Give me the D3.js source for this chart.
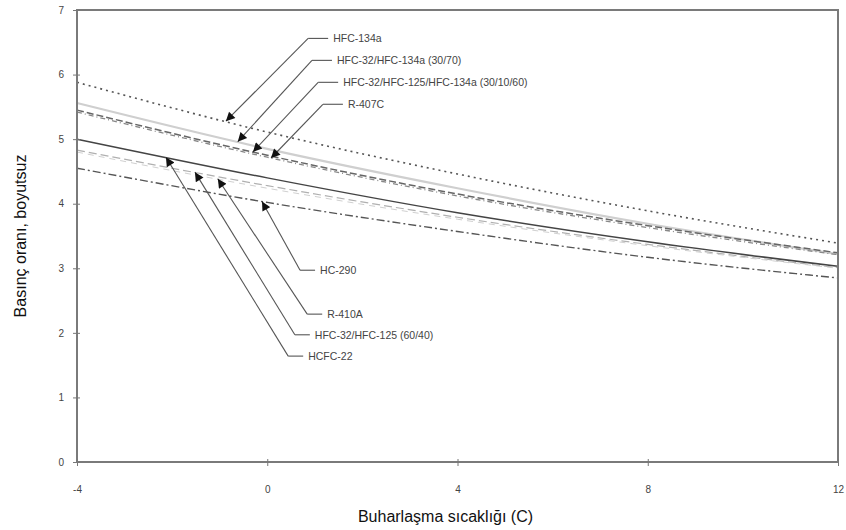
<!DOCTYPE html>
<html>
<head>
<meta charset="utf-8">
<script src="https://cdn.jsdelivr.net/npm/d3@7"></script>
<style>
  body { margin: 0; background: #fff; }
  text { font-family: "Liberation Sans", Arial, sans-serif; }
</style>
</head>
<body>
<svg id="chart" width="846" height="530"></svg>
<script>
//-------------------------------------------------
// Data
//-------------------------------------------------
var temps = [-4, 0, 4, 8, 12];
var xTicks = [-4, 0, 4, 8, 12];
var yTicks = [0, 1, 2, 3, 4, 5, 6, 7];

var hfc134a    = [5.88, 5.11, 4.46, 3.89, 3.39];
var mix3070    = [5.56, 4.85, 4.24, 3.69, 3.22];
var mix301060  = [5.45, 4.75, 4.15, 3.66, 3.24];
var r407c      = [5.42, 4.72, 4.12, 3.63, 3.21];
var hcfc22     = [5.00, 4.40, 3.86, 3.41, 3.03];
var mix6040    = [4.83, 4.28, 3.79, 3.37, 3.01];
var r410a      = [4.80, 4.24, 3.76, 3.35, 3.00];
var hc290      = [4.55, 4.02, 3.57, 3.17, 2.85];

var seriesNames = ["HFC-134a", "HFC-32/HFC-134a (30/70)", "HFC-32/HFC-125/HFC-134a (30/10/60)",
                   "R-407C", "HCFC-22", "HFC-32/HFC-125 (60/40)", "R-410A", "HC-290"];
var seriesValues = [hfc134a, mix3070, mix301060, r407c, hcfc22, mix6040, r410a, hc290];

// label callouts: tip temperature on the curve, elbow temperature, label level
var calloutTip   = [-0.87, -0.62, -0.30, 0.08, -2.13, -1.52, -1.04, -0.11];
var calloutElbow = [0.86, 0.94, 1.07, 1.17, 0.44, 0.58, 0.84, 0.69];
var calloutLevel = [6.56, 6.22, 5.88, 5.54, 1.64, 1.97, 2.29, 2.97];

//-------------------------------------------------
var margin = {top: 10, right: 8, bottom: 68, left: 77};
var width = 846 - margin.left - margin.right;
var height = 530 - margin.top - margin.bottom;

var svg = d3.select("#chart");

var x = d3.scaleLinear().domain([-4, 12]).range([0, width]);
var y = d3.scaleLinear().domain([0, 7]).range([height, 0]);

var g = svg.append("g")
  .attr("transform", "translate(" + margin.left + "," + margin.top + ")");

// line styles
var styles = [
  {stroke: "#555", width: 1.6, dash: "2,4"},        // HFC-134a dotted
  {stroke: "#cfcfcf", width: 2.2, dash: null},      // 30/70 light solid
  {stroke: "#666", width: 1.5, dash: "7,3"},        // 30/10/60 dashed
  {stroke: "#888", width: 1.3, dash: "5,3,1,3"},    // R-407C dash-dot
  {stroke: "#444", width: 1.5, dash: null},         // HCFC-22 solid
  {stroke: "#b0b0b0", width: 1.2, dash: "8,4"},     // 60/40 light dashed
  {stroke: "#d0d0d0", width: 1.0, dash: "6,5"},     // R-410A
  {stroke: "#555", width: 1.4, dash: "8,3,2,3"}     // HC-290 dash-dot
];

var line = d3.line()
  .x(function(d) { return x(d[0]); })
  .y(function(d) { return y(d[1]); })
  .curve(d3.curveMonotoneX);

seriesValues.forEach(function(vals, i) {
  var pts = temps.map(function(t, k) { return [t, vals[k]]; });
  g.append("path")
    .datum(pts)
    .attr("fill", "none")
    .attr("stroke", styles[i].stroke)
    .attr("stroke-width", styles[i].width)
    .attr("stroke-dasharray", styles[i].dash)
    .attr("d", line);
});

// frame
g.append("rect")
  .attr("x", 0).attr("y", 0)
  .attr("width", width).attr("height", height)
  .attr("fill", "none")
  .attr("stroke", "#7a7a7a")
  .attr("stroke-width", 2);

// axes
var xAxis = g.append("g")
  .attr("transform", "translate(0," + height + ")")
  .call(d3.axisBottom(x).tickValues(xTicks).tickSize(4).tickPadding(20)
        .tickFormat(function(d) { return d; }));
var yAxis = g.append("g")
  .call(d3.axisLeft(y).tickValues(yTicks).tickSize(4).tickPadding(9)
        .tickFormat(function(d) { return d; }));

[xAxis, yAxis].forEach(function(a) {
  a.select(".domain").remove();
  a.selectAll(".tick line").attr("stroke", "#777");
  a.selectAll(".tick text")
    .attr("fill", "#444")
    .style("font-size", "10px")
    .style("font-family", "'Liberation Sans', Arial, sans-serif");
});
xAxis.selectAll(".tick line").attr("y1", -3);
yAxis.selectAll(".tick line").attr("x1", 3);

// arrow marker
svg.append("defs").append("marker")
  .attr("id", "arrow")
  .attr("viewBox", "0 0 10 10")
  .attr("refX", 10).attr("refY", 5)
  .attr("markerWidth", 11).attr("markerHeight", 9)
  .attr("markerUnits", "userSpaceOnUse")
  .attr("orient", "auto")
  .append("path")
  .attr("d", "M0,0L10,5L0,10z")
  .attr("fill", "#111");

// value of a series at a temperature (linear between read points)
function valueAt(vals, t) {
  return d3.scaleLinear().domain(temps).range(vals)(t);
}

seriesNames.forEach(function(name, i) {
  var tipX = x(calloutTip[i]);
  var tipY = y(valueAt(seriesValues[i], calloutTip[i]));
  var ex = x(calloutElbow[i]);
  var ey = y(calloutLevel[i]);
  var upper = i < 4;
  var hEnd = ex + (upper ? 20 : 15);

  g.append("line")
    .attr("x1", ex).attr("y1", ey)
    .attr("x2", tipX).attr("y2", tipY)
    .attr("stroke", "#555")
    .attr("stroke-width", 1.1)
    .attr("marker-end", "url(#arrow)");
  g.append("line")
    .attr("x1", ex).attr("y1", ey)
    .attr("x2", hEnd).attr("y2", ey)
    .attr("stroke", "#555")
    .attr("stroke-width", 1.1);
  g.append("text")
    .attr("x", hEnd + 5)
    .attr("y", ey + 4)
    .attr("fill", "#444")
    .style("font-size", "10.5px")
    .text(name);
});

// axis titles
svg.append("text")
  .attr("x", margin.left + width / 2 - 12)
  .attr("y", 522)
  .attr("text-anchor", "middle")
  .attr("fill", "#111")
  .style("font-size", "16px")
  .text("Buharlaşma sıcaklığı (C)");

svg.append("text")
  .attr("transform", "translate(26," + 236 + ") rotate(-90)")
  .attr("text-anchor", "middle")
  .attr("fill", "#111")
  .style("font-size", "16px")
  .text("Basınç oranı, boyutsuz");
</script>
</body>
</html>
